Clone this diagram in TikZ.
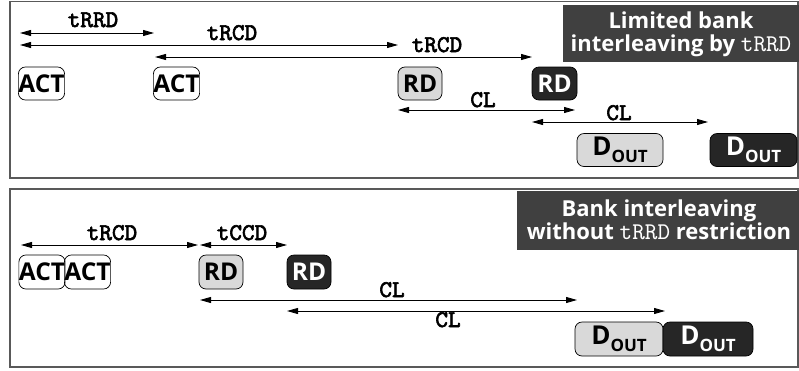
\documentclass[tikz,border=0pt]{standalone}
\usepackage{fontspec}
\setmainfont{Open Sans}
\newfontfamily\monof[FakeBold=2.5]{lmmono10-regular.otf}
\newfontfamily\monor{lmmono10-regular.otf}
\usetikzlibrary{arrows.meta}
\definecolor{frame}{HTML}{595959}
\definecolor{titlebg}{HTML}{404040}
\definecolor{lightfill}{HTML}{D9D9D9}
\definecolor{darkfill}{HTML}{262626}
\tikzset{
  x=1pt, y=-1pt,
  panel/.style={draw=frame, line width=1.2pt},
  titlebox/.style={fill=titlebg, draw=none},
  titletext/.style={text=white, align=center, font=\bfseries\fontsize{22}{23}\selectfont, inner sep=0pt},
  cmdbox/.style={draw=black, line width=0.7pt, rounded corners=7pt, inner sep=0pt,
     font=\bfseries\fontsize{24.5}{25}\selectfont},
  lightbox/.style={cmdbox, fill=lightfill},
  darkbox/.style={cmdbox, fill=darkfill, text=white},
  span/.style={line width=0.8pt, {Triangle[length=11pt,width=6pt]}-{Triangle[length=11pt,width=6pt]}},
  tlabel/.style={anchor=base, inner sep=0pt, font=\monof\fontsize{24}{24}\selectfont},
}
\newcommand{\dout}{{\fontsize{26}{26}\selectfont D}\raisebox{-0.28em}{\fontsize{17}{17}\selectfont OUT}}
\begin{document}
\begin{tikzpicture}
\useasboundingbox (0,0) rectangle (799,370);
% ---------- top panel ----------
\draw[panel] (10,1.5) rectangle (798,178);
\fill[titlebox] (563,5) rectangle (799,62);
\node[titletext] (t1) at (681,34) {Limited bank\\interleaving by {\monor\mdseries\fontsize{24}{23}\selectfont tRRD}};

\node[cmdbox, minimum width=43pt, minimum height=33pt] (a1) at (41.5,83.5) {ACT};
\node[cmdbox, minimum width=43pt, minimum height=33pt] (a2) at (176.5,83.5) {ACT};
\node[lightbox, minimum width=44pt, minimum height=33pt] (r1) at (420,83.5) {RD};
\node[darkbox, minimum width=45pt, minimum height=33pt] (r2) at (554.5,83.5) {RD};
\node[lightbox, minimum width=86pt, minimum height=33pt] (d1) at (620,150) {\dout};
\node[darkbox, minimum width=87pt, minimum height=33pt] (d2) at (753.5,150) {\dout};

\coordinate (p1) at (20,33);   \coordinate (p2) at (154,33);
\coordinate (p3) at (20,45);   \coordinate (p4) at (398,45);
\coordinate (p5) at (155,57);  \coordinate (p6) at (532,57);
\coordinate (p7) at (398,110); \coordinate (p8) at (575,110);
\coordinate (p9) at (532,122); \coordinate (p10) at (708,122);
\draw[span] (p1) -- (p2);
\draw[span] (p3) -- (p4);
\draw[span] (p5) -- (p6);
\draw[span] (p7) -- (p8);
\draw[span] (p9) -- (p10);
\node[tlabel] (l1) at (93,27) {tRRD};
\node[tlabel] (l2) at (232,40) {tRCD};
\node[tlabel] (l3) at (437,52) {tRCD};
\node[tlabel] (l4) at (483,107) {CL};
\node[tlabel] (l5) at (619,120) {CL};

% ---------- bottom panel ----------
\draw[panel] (10,189) rectangle (798,367);
\fill[titlebox] (517,191) rectangle (799,250);
\node[titletext] (t2) at (659,220) {Bank interleaving\\without {\monor\mdseries\fontsize{24}{23}\selectfont tRRD} restriction};

\node[cmdbox, minimum width=44pt, minimum height=34pt] (b1) at (42,272) {ACT};
\node[cmdbox, minimum width=45pt, minimum height=34pt] (b2) at (87.5,272) {ACT};
\node[lightbox, minimum width=44pt, minimum height=34pt] (s1) at (221,272) {RD};
\node[darkbox, minimum width=44pt, minimum height=34pt] (s2) at (309,272) {RD};
\node[lightbox, minimum width=88pt, minimum height=34pt] (e1) at (619,339) {\dout};
\node[darkbox, minimum width=90pt, minimum height=34pt] (e2) at (708,339) {\dout};

\coordinate (q1) at (21,245);  \coordinate (q2) at (198,245);
\coordinate (q3) at (200,245); \coordinate (q4) at (287,245);
\coordinate (q5) at (200,300); \coordinate (q6) at (577,300);
\coordinate (q7) at (287,311); \coordinate (q8) at (665,311);
\draw[span] (q1) -- (q2);
\draw[span] (q3) -- (q4);
\draw[span] (q5) -- (q6);
\draw[span] (q7) -- (q8);
\node[tlabel] (m1) at (112,240) {tRCD};
\node[tlabel] (m2) at (242,240) {tCCD};
\node[tlabel] (m3) at (392,297) {CL};
\node[tlabel] (m4) at (448,327) {CL};
\end{tikzpicture}
\end{document}
